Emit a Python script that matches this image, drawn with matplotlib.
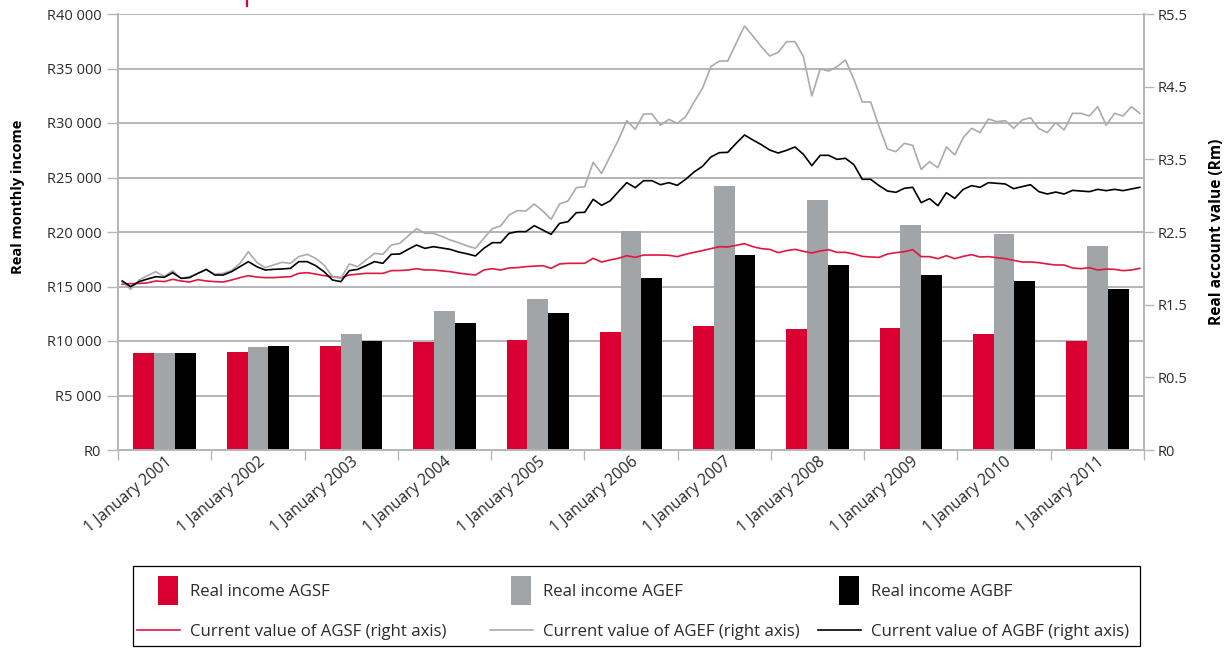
import numpy as np
import matplotlib
matplotlib.use("Agg")
import matplotlib.pyplot as plt
from matplotlib.patches import Rectangle
from matplotlib.lines import Line2D
from matplotlib.legend_handler import HandlerPatch

# ---------------- data ----------------
years = [2001, 2002, 2003, 2004, 2005, 2006, 2007, 2008, 2009, 2010, 2011]
category_labels = [f"1 January {y}" for y in years]

# Real monthly income (left axis, rand)
income_agsf = [8900, 9000, 9540, 9940, 10090, 10830, 11380, 11100, 11190, 10640, 10000]
income_agef = [8900, 9450, 10640, 12750, 13850, 20090, 24220, 22940, 20640, 19820, 18720]
income_agbf = [8900, 9540, 10000, 11650, 12570, 15780, 17890, 16970, 16060, 15500, 14770]

left_ticks = [0, 5000, 10000, 15000, 20000, 25000, 30000, 35000, 40000]
left_tick_labels = ["R0", "R5 000", "R10 000", "R15 000", "R20 000", "R25 000",
                    "R30 000", "R35 000", "R40 000"]
right_tick_labels = ["R0", "R0.5", "R1.5", "R2.5", "R3.5", "R4.5", "R5.5"]

# Current account value, monthly from Jan 2001 (right axis, tick units)
value_agef = [
    2.317, 2.211, 2.339, 2.40, 2.454, 2.385, 2.468, 2.362, 2.385, 2.431,
    2.477, 2.422, 2.431, 2.468, 2.569, 2.729, 2.583, 2.509, 2.546, 2.583,
    2.569, 2.661, 2.693, 2.638, 2.546, 2.385, 2.362, 2.560, 2.523, 2.615,
    2.706, 2.693, 2.821, 2.844, 2.945, 3.046, 2.982, 2.982, 2.94, 2.890,
    2.853, 2.81, 2.775, 2.913, 3.046, 3.083, 3.234, 3.294, 3.289, 3.385,
    3.289, 3.174, 3.385, 3.427, 3.610, 3.624, 3.959,
    3.807, 4.037, 4.266, 4.532, 4.413, 4.624, 4.624, 4.468, 4.550, 4.495,
    4.587, 4.789, 4.977, 5.275, 5.353, 5.353, 5.596, 5.835, 5.697, 5.550,
    5.422, 5.472, 5.619, 5.619, 5.413, 4.872, 5.243, 5.216, 5.275, 5.367,
    5.101, 4.789, 4.789, 4.450, 4.142, 4.106, 4.220, 4.193, 3.862, 3.968,
    3.885, 4.170, 4.060, 4.298, 4.427, 4.367, 4.555, 4.518, 4.532, 4.427,
    4.541, 4.573, 4.422, 4.367, 4.505, 4.404, 4.633, 4.633, 4.596, 4.725,
    4.47, 4.633, 4.596, 4.725, 4.633,
]
value_agbf = [
    2.326, 2.248, 2.317, 2.353, 2.385, 2.376, 2.440, 2.362, 2.372, 2.431,
    2.486, 2.408, 2.408, 2.454, 2.523, 2.592, 2.523, 2.477, 2.486, 2.491,
    2.500, 2.592, 2.592, 2.537, 2.454, 2.339, 2.317, 2.468, 2.486, 2.537,
    2.592, 2.569, 2.693, 2.697, 2.761, 2.821, 2.775, 2.798, 2.78, 2.761,
    2.725, 2.70, 2.670, 2.775, 2.853, 2.853, 2.982, 3.005, 3.005, 3.087,
    3.028, 2.968, 3.119, 3.142, 3.266, 3.271, 3.450,
    3.367, 3.427, 3.555, 3.679, 3.610, 3.706, 3.706, 3.651, 3.679, 3.642,
    3.725, 3.826, 3.904, 4.032, 4.092, 4.096, 4.220, 4.335, 4.266, 4.202,
    4.128, 4.087, 4.124, 4.170, 4.069, 3.913, 4.055, 4.055, 4.0, 4.014,
    3.927, 3.725, 3.725, 3.638, 3.564, 3.546, 3.601, 3.615, 3.404, 3.459,
    3.362, 3.541, 3.463, 3.587, 3.638, 3.615, 3.679, 3.670, 3.661, 3.596,
    3.624, 3.651, 3.555, 3.523, 3.550, 3.523, 3.573, 3.564, 3.555, 3.587,
    3.569, 3.587, 3.569, 3.592, 3.615,
]
value_agsf = [
    2.280, 2.289, 2.292, 2.30, 2.326, 2.317, 2.349, 2.326, 2.312, 2.344,
    2.326, 2.317, 2.312, 2.339, 2.372, 2.399, 2.38, 2.372, 2.372, 2.38,
    2.385, 2.431, 2.440, 2.422, 2.399, 2.385, 2.372, 2.408, 2.42, 2.431,
    2.431, 2.431, 2.468, 2.47, 2.477, 2.495, 2.477, 2.477, 2.465, 2.454,
    2.435, 2.42, 2.408, 2.477, 2.495, 2.477, 2.505, 2.51, 2.523, 2.53,
    2.537, 2.50, 2.560, 2.569, 2.569, 2.569, 2.638,
    2.587, 2.615, 2.638, 2.674, 2.651, 2.683, 2.683, 2.683, 2.679, 2.661,
    2.693, 2.720, 2.744, 2.771, 2.798, 2.794, 2.817, 2.839, 2.798, 2.771,
    2.761, 2.716, 2.744, 2.761, 2.734, 2.711, 2.739, 2.757, 2.720, 2.720,
    2.697, 2.665, 2.656, 2.651, 2.697, 2.716, 2.729, 2.757, 2.661, 2.661,
    2.633, 2.674, 2.633, 2.665, 2.688, 2.656, 2.661, 2.647, 2.633, 2.610,
    2.587, 2.587, 2.578, 2.560, 2.546, 2.546, 2.505, 2.495, 2.509, 2.477,
    2.49, 2.486, 2.468, 2.477, 2.50,
]

bar_labels = ["Real income AGSF", "Real income AGEF", "Real income AGBF"]
line_labels = ["Current value of AGSF (right axis)", "Current value of AGEF (right axis)",
               "Current value of AGBF (right axis)"]

# ---------------- style ----------------
plt.rcParams["font.family"] = ["Open Sans", "DejaVu Sans"]
RED = "#DA0032"
RED_LINE = "#E0173F"
GREY = "#A1A5A8"
GREY_LINE = "#A9ABAE"
GRID = "#B4B6B9"
TXT = "#2b2b2b"
FS = 10.5

W, H = 1230, 648
fig = plt.figure(figsize=(W / 100, H / 100), dpi=100)
ax = fig.add_axes([118 / W, 1 - 450 / H, 1026 / W, 436 / H])

x = np.arange(len(years))
bw = 0.223
ax.bar(x - bw, income_agsf, bw, color=RED, zorder=2)
ax.bar(x, income_agef, bw, color=GREY, zorder=2)
ax.bar(x + bw, income_agbf, bw, color="black", zorder=2)

ax.set_xlim(-0.5, len(years) - 0.5)
ax.set_ylim(0, 40000)
ax.set_yticks(left_ticks)
ax.set_yticklabels(left_tick_labels, fontsize=FS, color=TXT)
ax.yaxis.grid(True, color=GRID, lw=1.4, zorder=0)
ax.set_axisbelow(True)
ax.tick_params(axis="y", length=8, width=1.0, color=GRID, pad=4)

ax.set_xticks(x)
ax.set_xticklabels(category_labels, rotation=40, ha="right", va="top",
                   rotation_mode="anchor", fontsize=11.3, color=TXT)
ax.tick_params(axis="x", which="major", length=0, pad=3)
ax.set_xticks(np.arange(-0.5, len(years), 1.0), minor=True)
ax.tick_params(axis="x", which="minor", length=7, width=1.0, color=GRID)

for s in ["top", "right"]:
    ax.spines[s].set_visible(False)
for s in ["left", "bottom"]:
    ax.spines[s].set_color(GRID)
    ax.spines[s].set_linewidth(1.4)

# right axis
ax_r = ax.twinx()
ax_r.set_ylim(0, 6)
ax_r.set_yticks(range(len(right_tick_labels)))
ax_r.set_yticklabels(right_tick_labels, fontsize=FS, color=TXT)
ax_r.tick_params(axis="y", length=7, width=1.0, color=GRID, pad=3)
for s in ["top", "left", "bottom"]:
    ax_r.spines[s].set_visible(False)
ax_r.spines["right"].set_color(GRID)
ax_r.spines["right"].set_linewidth(1.4)

# lines on monthly x axis
ax_l = ax_r.twiny()
months = np.arange(len(value_agef))
ax_l.set_xlim(-0.5, len(months) - 0.5)
l_sf, = ax_l.plot(months, value_agsf, color=RED_LINE, lw=1.2)
l_ef, = ax_l.plot(months, value_agef, color=GREY_LINE, lw=1.2)
l_bf, = ax_l.plot(months, value_agbf, color="black", lw=1.2)
ax_l.xaxis.set_visible(False)
for s in ax_l.spines.values():
    s.set_visible(False)

# axis titles
fig.text(18 / W, 1 - 197 / H, "Real monthly income", rotation=90, ha="center",
         va="center", fontsize=FS, fontweight="bold", color="black")
fig.text(1217 / W, 1 - 232 / H, "Real account value (Rm)", rotation=90, ha="center",
         va="center", fontsize=11.2, fontweight="bold", color="black")

# small red mark at top
fig.add_artist(Line2D([247 / W, 247 / W], [1.0, 1 - 6 / H], color=RED, lw=1.6))

# legend: frame + one legend per column
fig.add_artist(Rectangle((133 / W, 2 / H), 1007 / W, 80 / H, fill=False,
                         edgecolor="black", linewidth=0.9,
                         transform=fig.transFigure))

def bar_handle(legend, orig_handle, xdescent, ydescent, width, height, fontsize):
    hh = 21.0
    return Rectangle((-xdescent + width * 0.49, -ydescent + height / 2 - hh / 2),
                     width * 0.465, hh)

LFS = 12.1
col_left_px = [137, 490, 818]
bar_colors = [RED, GREY, "black"]
line_handles = [l_sf, l_ef, l_bf]
for cx, col, bl, lh, ll in zip(col_left_px, bar_colors, bar_labels, line_handles, line_labels):
    proxy = Rectangle((0, 0), 1, 1, facecolor=col, edgecolor="none")
    lg = fig.legend([proxy, lh], [bl, ll], loc="upper left",
                    bbox_to_anchor=(cx / W, 1 - 584 / H),
                    bbox_transform=fig.transFigure, frameon=False,
                    fontsize=LFS, handlelength=2.55, handletextpad=0.6,
                    labelspacing=1.4, borderpad=0, borderaxespad=0,
                    handler_map={Rectangle: HandlerPatch(patch_func=bar_handle)})
    for t in lg.get_texts():
        t.set_color(TXT)

fig.savefig("out.png", dpi=100)
